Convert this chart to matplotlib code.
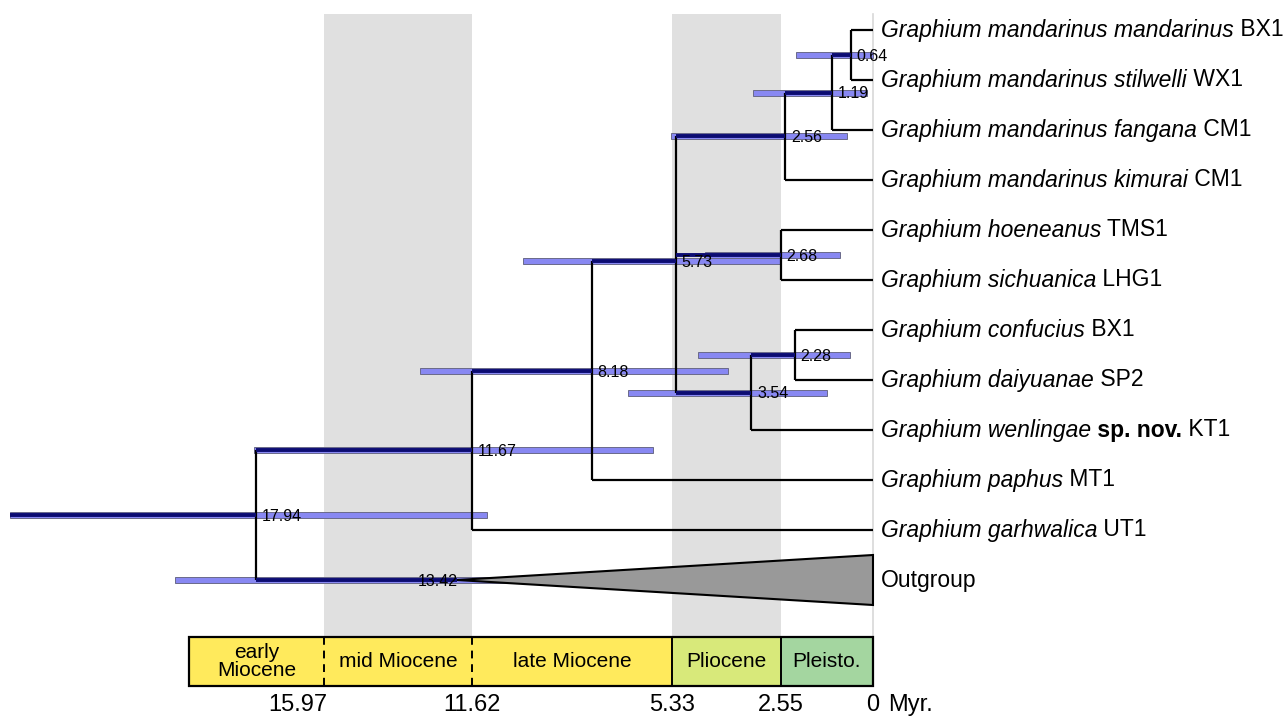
import matplotlib
matplotlib.use('Agg')
import matplotlib.pyplot as plt
from matplotlib.patches import Rectangle, Polygon

plt.rcParams['font.family'] = ['Liberation Sans', 'DejaVu Sans']

# --- Data ---
tip_species = ["Graphium mandarinus mandarinus", "Graphium mandarinus stilwelli",
               "Graphium mandarinus fangana", "Graphium mandarinus kimurai",
               "Graphium hoeneanus", "Graphium sichuanica", "Graphium confucius",
               "Graphium daiyuanae", "Graphium wenlingae", "Graphium paphus",
               "Graphium garhwalica"]
tip_bold = ["", "", "", "", "", "", "", "", " sp. nov.", "", ""]
tip_codes = ["BX1", "WX1", "CM1", "CM1", "TMS1", "LHG1", "BX1", "SP2", "KT1", "MT1", "UT1"]

# internal nodes: name -> (age in Myr, children); ints are tip indices
node_age = {'n064': 0.64, 'n119': 1.19, 'n256': 2.56, 'n268': 2.68, 'n228': 2.28,
            'n354': 3.54, 'n573': 5.73, 'n818': 8.18, 'n1167': 11.67, 'n1794': 17.94}
node_children = {'n064': [0, 1], 'n119': ['n064', 2], 'n256': ['n119', 3],
                 'n268': [4, 5], 'n228': [6, 7], 'n354': ['n228', 8],
                 'n573': ['n256', 'n268', 'n354'], 'n818': ['n573', 9],
                 'n1167': ['n818', 10], 'n1794': ['n1167', 'out']}
# 95% HPD intervals (older, younger)
node_hpd = {'n064': (2.23, 0.0), 'n119': (3.49, 0.17), 'n256': (5.88, 0.76),
            'n268': (4.9, 0.96), 'n228': (5.09, 0.67), 'n354': (7.13, 1.34),
            'n573': (10.18, 2.71), 'n818': (13.18, 4.22), 'n1167': (18.0, 6.40),
            'n1794': (25.1, 11.23)}
root_stem_start = 25.1
outgroup_age = 13.42
outgroup_hpd = (20.3, 7.3)
outgroup_apex = 12.1

epoch_edges = [19.9, 15.97, 11.66, 5.85, 2.68, 0.0]
epoch_names = ["early\nMiocene", "mid Miocene", "late Miocene", "Pliocene", "Pleisto."]
epoch_colors = ["#ffea5c", "#ffea5c", "#ffea5c", "#d8e97a", "#a4d6a0"]
epoch_dashed = [True, True, False, False]
tick_labels = ["15.97", "11.62", "5.33", "2.55", "0"]
tick_label_pos = [16.72, 11.66, 5.85, 2.68, 0.0]

NAVY = '#0c0c72'
BAR = '#8888f2'

fig = plt.figure(figsize=(12.88, 7.18), dpi=100)
ax = fig.add_axes([0, 0, 1, 1])
ax.set_xlim(25.39, -12.07)
ax.set_ylim(13.76, -0.6)
ax.axis('off')

# --- layout ---
ypos = {i: i for i in range(len(tip_species))}
ypos['out'] = len(tip_species)

def get_y(n):
    if n not in ypos:
        ys = [get_y(c) for c in node_children[n]]
        ypos[n] = sum(ys) / len(ys)
    return ypos[n]

for n in node_children:
    get_y(n)

def child_age(c):
    if c == 'out':
        return outgroup_apex
    return node_age.get(c, 0.0)

box_top, box_bot = 12.14, 13.12

# background epoch bands
for k in (1, 3):
    ax.add_patch(Rectangle((epoch_edges[k + 1], -0.32), epoch_edges[k] - epoch_edges[k + 1],
                           box_top + 0.32, fc='#e0e0e0', ec='none', zorder=0))
ax.plot([0, 0], [-0.32, box_top], color='#d8d8d8', lw=1.2, zorder=0.5)

# HPD bars
for n, (lo, hi) in node_hpd.items():
    ax.add_patch(Rectangle((hi, ypos[n] - 0.06), lo - hi, 0.12, fc=BAR, ec='#6a6a8a',
                           lw=0.7, zorder=2))
ax.add_patch(Rectangle((outgroup_hpd[1], ypos['out'] - 0.06), outgroup_hpd[0] - outgroup_hpd[1],
                       0.12, fc=BAR, ec='#6a6a8a', lw=0.7, zorder=2))

# outgroup triangle
ax.add_patch(Polygon([(outgroup_apex, ypos['out']), (0, ypos['out'] - 0.5), (0, ypos['out'] + 0.5)],
                     closed=True, fc='#999999', ec='black', lw=1.5, zorder=2.5))

# branches
for n, ch in node_children.items():
    a = node_age[n]
    ys = [ypos[c] for c in ch]
    ax.plot([a, a], [min(ys), max(ys)], color='black', lw=1.6, zorder=3,
            solid_capstyle='butt')
    for c in ch:
        internal = not isinstance(c, int)
        ax.plot([a, child_age(c)], [ypos[c], ypos[c]], color=NAVY if internal else 'black',
                lw=2.8 if internal else 1.6, zorder=3.2 if internal else 3,
                solid_capstyle='butt')
ax.plot([root_stem_start, node_age['n1794']], [ypos['n1794']] * 2, color=NAVY, lw=2.8,
        zorder=3.2, solid_capstyle='butt')

# node labels
for n, a in node_age.items():
    ax.text(a - 0.17, ypos[n] + 0.03, f"{a:.2f}", fontsize=11.5, va='center', ha='left', zorder=4)
ax.text(outgroup_age - 0.17, ypos['out'] + 0.03, f"{outgroup_age:.2f}", fontsize=11.5,
        va='center', ha='left', zorder=4)

# tip labels
for i, sp in enumerate(tip_species):
    t = ax.text(-0.23, i, sp, fontsize=16.5, style='italic', va='center', ha='left')
    if tip_bold[i]:
        t = ax.annotate(tip_bold[i], xy=(1, 0), xycoords=t, va='bottom', ha='left',
                        fontsize=16.5, fontweight='bold')
    ax.annotate(" " + tip_codes[i], xy=(1, 0), xycoords=t, va='bottom', ha='left',
                fontsize=16.5)
ax.text(-0.23, ypos['out'], "Outgroup", fontsize=16.5, va='center', ha='left')

# epoch box
for k, name in enumerate(epoch_names):
    x0, x1 = epoch_edges[k + 1], epoch_edges[k]
    ax.add_patch(Rectangle((x0, box_top), x1 - x0, box_bot - box_top, fc=epoch_colors[k],
                           ec='none', zorder=1))
    ax.text((x0 + x1) / 2, (box_top + box_bot) / 2, name, fontsize=15, ha='center',
            va='center', linespacing=0.9, zorder=4)
ax.add_patch(Rectangle((epoch_edges[-1], box_top), epoch_edges[0] - epoch_edges[-1],
                       box_bot - box_top, fc='none', ec='black', lw=1.6, zorder=3))
for k, dashed in enumerate(epoch_dashed):
    x = epoch_edges[k + 1]
    ax.plot([x, x], [box_top, box_bot], color='black', lw=1.4,
            ls=(0, (4, 3)) if dashed else '-', zorder=3)

for x, lab in zip(tick_label_pos, tick_labels):
    ax.text(x, 13.5, lab, fontsize=17, ha='center', va='center')
ax.text(-0.45, 13.5, "Myr.", fontsize=17, ha='left', va='center')

fig.savefig('out.png', dpi=100)
